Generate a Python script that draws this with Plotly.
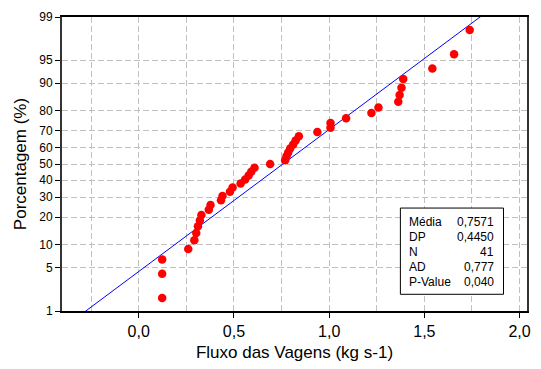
from statistics import NormalDist
import plotly.graph_objects as go

# Data (sorted sample values)
fluxo = [0.123, 0.123, 0.123, 0.260, 0.292, 0.302, 0.311, 0.321, 0.329, 0.368,
         0.377, 0.432, 0.440, 0.479, 0.493, 0.535, 0.559, 0.577, 0.591, 0.608,
         0.690, 0.769, 0.776, 0.785, 0.795, 0.811, 0.824, 0.841, 0.938, 1.007,
         1.007, 1.089, 1.222, 1.259, 1.363, 1.370, 1.380, 1.389, 1.542, 1.656,
         1.738]
# Plotting positions (%), median ranks
porcentagem = [1.691, 4.106, 6.522, 8.937, 11.353, 13.768, 16.184, 18.599, 21.014, 23.430,
               25.845, 28.261, 30.676, 33.092, 35.507, 37.923, 40.338, 42.754, 45.169, 47.585,
               50.000, 52.415, 54.831, 57.246, 59.662, 62.077, 64.493, 66.908, 69.324, 71.739,
               74.155, 76.570, 78.986, 81.401, 83.816, 86.232, 88.647, 91.063, 93.478, 95.894,
               98.309]
y_ticks = [1, 5, 10, 20, 30, 40, 50, 60, 70, 80, 90, 95, 99]
x_ticks = [0.0, 0.5, 1.0, 1.5, 2.0]
x_tick_labels = ["0,0", "0,5", "1,0", "1,5", "2,0"]
media = 0.7571
dp = 0.4450
stats_labels = ["Média", "DP", "N", "AD", "P-Value"]
stats_values = ["0,7571", "0,4450", "41", "0,777", "0,040"]

nd = NormalDist()
z = lambda p: nd.inv_cdf(p / 100.0)

fig = go.Figure()

# Fitted normal line
zl = [-3.0, 3.0]
fig.add_trace(go.Scatter(
    x=[media + dp * v for v in zl], y=zl, mode="lines",
    line=dict(color="#0000ff", width=1), hoverinfo="skip", showlegend=False))

# Data points
fig.add_trace(go.Scatter(
    x=fluxo, y=[z(p) for p in porcentagem], mode="markers",
    marker=dict(color="#ff0000", size=8.5, line=dict(width=0)),
    showlegend=False, cliponaxis=False))

font_family = "Liberation Sans, Arial, sans-serif"
grid_col = "#c0c0c0"
gdash = "6px,3px"

fig.update_layout(
    width=541, height=369,
    margin=dict(l=62, r=10, t=14, b=56),
    paper_bgcolor="white", plot_bgcolor="white",
    font=dict(family=font_family, color="black"),
    showlegend=False,
    xaxis=dict(
        range=[-0.403, 2.039], tickvals=x_ticks, ticktext=x_tick_labels,
        ticks="outside", ticklen=5, tickcolor="black", tickwidth=1,
        tickfont=dict(size=16),
        showgrid=True, gridcolor=grid_col, griddash=gdash, gridwidth=1,
        minor=dict(dtick=0.25, tick0=0, showgrid=True, gridcolor=grid_col,
                   griddash=gdash, gridwidth=1, ticks=""),
        showline=True, linecolor="black", linewidth=1.5, mirror=True,
        zeroline=False,
        title=dict(text="Fluxo das Vagens (kg s-1)", font=dict(size=17), standoff=7),
    ),
    yaxis=dict(
        range=[z(1), z(99)], tickvals=[z(v) for v in y_ticks],
        ticktext=[str(v) for v in y_ticks],
        ticks="outside", ticklen=5, tickcolor="black", tickwidth=1,
        tickfont=dict(size=12),
        showgrid=True, gridcolor=grid_col, griddash=gdash, gridwidth=1,
        showline=True, linecolor="#333333", linewidth=2, mirror=True,
        zeroline=False,
        title=dict(text="Porcentagem (%)", font=dict(size=17), standoff=8),
    ),
)

# Statistics box
H = 299.0
W = 469.0
def px_to_paper_x(px):
    return (px - 62) / W
def px_to_paper_y(py):
    return (313 - py) / H

fig.add_shape(type="rect", xref="paper", yref="paper",
              x0=px_to_paper_x(403.3), x1=px_to_paper_x(507.3),
              y0=px_to_paper_y(296), y1=px_to_paper_y(208.3),
              line=dict(color="black", width=1), fillcolor="white", layer="above")
rows_y = [222.3, 237.7, 253.0, 268.3, 283.7]
for lab, val, ry in zip(stats_labels, stats_values, rows_y):
    fig.add_annotation(xref="paper", yref="paper", x=px_to_paper_x(410.0),
                       y=px_to_paper_y(ry), text=lab, showarrow=False,
                       xanchor="left", yanchor="middle", font=dict(size=12))
    fig.add_annotation(xref="paper", yref="paper", x=px_to_paper_x(500.0),
                       y=px_to_paper_y(ry), text=val, showarrow=False,
                       xanchor="right", yanchor="middle", font=dict(size=12))

fig.write_html("out.html")
